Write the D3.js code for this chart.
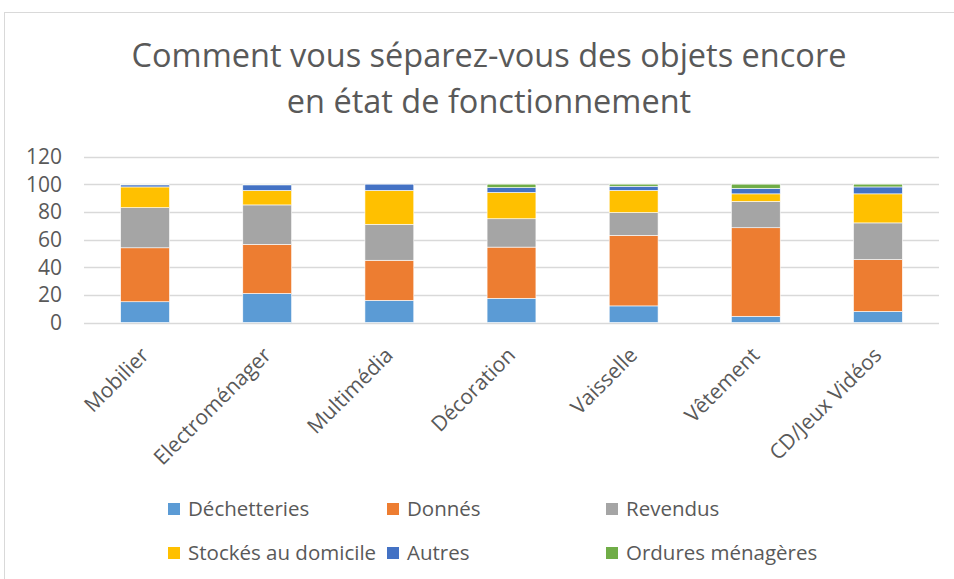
<!DOCTYPE html>
<html>
<head>
<meta charset="utf-8">
<script src="https://cdn.jsdelivr.net/npm/d3@7"></script>
<style>
  body { margin: 0; background: #fff; }
  svg { display: block; font-family: "Open Sans", sans-serif; }
</style>
</head>
<body>
<div id="chart"></div>
<script>
// DATA
const categories = ["Mobilier", "Electroménager", "Multimédia", "Décoration", "Vaisselle", "Vêtement", "CD/Jeux Vidéos"]
const seriesNames = ["Déchetteries", "Donnés", "Revendus", "Stockés au domicile", "Autres", "Ordures ménagères"]
const seriesColors = ["#5b9bd5", "#ed7d31", "#a5a5a5", "#ffc000", "#4472c4", "#70ad47"]

const dechetteries = [15, 21, 16, 17.5, 12, 4.5, 8]
const donnes = [39, 35.5, 29, 37, 51, 64, 37.5]
const revendus = [29, 28.5, 26, 20.5, 16.5, 19, 26.5]
const stockes = [15, 10.5, 24.5, 19, 16, 5.5, 21]
const autres = [1.5, 4, 4.5, 3.5, 3, 4, 5]
const ordures = [0.5, 0.5, 0, 2.5, 1.5, 3, 2]

const yTicks = [0, 20, 40, 60, 80, 100, 120]

// build table for d3.stack
const table = categories.map((c, i) => ({
    cat: c,
    "Déchetteries": dechetteries[i],
    "Donnés": donnes[i],
    "Revendus": revendus[i],
    "Stockés au domicile": stockes[i],
    "Autres": autres[i],
    "Ordures ménagères": ordures[i]
}))

const settings = {
    width: 954,
    height: 579,
    plotLeft: 84,
    plotRight: 939,
    plotTop: 156.5,
    plotBottom: 322.5,
    textColor: "#595959"
}

const svg = d3.select("#chart").append("svg")
    .attr("width", settings.width)
    .attr("height", settings.height)

// chart border (cropped on the right and bottom)
svg.append("rect")
    .attr("x", 4.5).attr("y", 12.5)
    .attr("width", 1000).attr("height", 700)
    .attr("fill", "none")
    .attr("stroke", "#d9d9d9")

// title
const title = svg.append("text")
    .attr("text-anchor", "middle")
    .attr("fill", settings.textColor)
    .style("font-size", "32.5px")
title.append("tspan").attr("x", 489).attr("y", 67).text("Comment vous séparez-vous des objets encore")
title.append("tspan").attr("x", 489).attr("y", 113).text("en état de fonctionnement")

const x = d3.scaleBand()
    .domain(categories)
    .range([settings.plotLeft, settings.plotRight])
    .paddingInner(0.6)
    .paddingOuter(0.3)

const y = d3.scaleLinear()
    .domain([0, 120])
    .range([settings.plotBottom, settings.plotTop])

// gridlines
svg.append("g")
    .selectAll("line")
    .data(yTicks)
    .join("line")
    .attr("x1", settings.plotLeft)
    .attr("x2", settings.plotRight)
    .attr("y1", d => Math.round(y(d)) + 0.5)
    .attr("y2", d => Math.round(y(d)) + 0.5)
    .attr("stroke", "#d9d9d9")
    .attr("stroke-width", 1.5)

// y axis labels
svg.append("g")
    .selectAll("text")
    .data(yTicks)
    .join("text")
    .attr("x", 62)
    .attr("y", d => y(d))
    .attr("dy", "0.36em")
    .attr("text-anchor", "end")
    .attr("fill", settings.textColor)
    .style("font-size", "21px")
    .text(d => d)

// stacked bars
const stacked = d3.stack().keys(seriesNames)(table)

svg.append("g")
    .selectAll("g")
    .data(stacked)
    .join("g")
    .attr("fill", (d, i) => seriesColors[i])
    .selectAll("rect")
    .data(d => d)
    .join("rect")
    .attr("x", d => x(d.data.cat))
    .attr("y", d => y(d[1]))
    .attr("width", x.bandwidth())
    .attr("height", d => Math.max(0, y(d[0]) - y(d[1])))
    .attr("stroke", "#fff")
    .attr("stroke-width", 0.6)

// x labels, rotated
svg.append("g")
    .selectAll("text")
    .data(categories)
    .join("text")
    .attr("transform", d => `translate(${x(d) + x.bandwidth() / 2 + 5},${settings.plotBottom + 34}) rotate(-45)`)
    .attr("text-anchor", "end")
    .attr("fill", settings.textColor)
    .style("font-size", "21px")
    .text(d => d)

// legend
const legendCols = [168, 387, 606]
const legendRows = [509, 553]

const legend = svg.append("g")
    .selectAll("g")
    .data(seriesNames)
    .join("g")
    .attr("transform", (d, i) => `translate(${legendCols[i % 3]},${legendRows[Math.floor(i / 3)]})`)

legend.append("rect")
    .attr("x", 0).attr("y", -6)
    .attr("width", 12).attr("height", 12)
    .attr("fill", (d, i) => seriesColors[i])

legend.append("text")
    .attr("x", 20)
    .attr("dy", "0.32em")
    .attr("fill", settings.textColor)
    .style("font-size", "20.5px")
    .text(d => d)
</script>
</body>
</html>
